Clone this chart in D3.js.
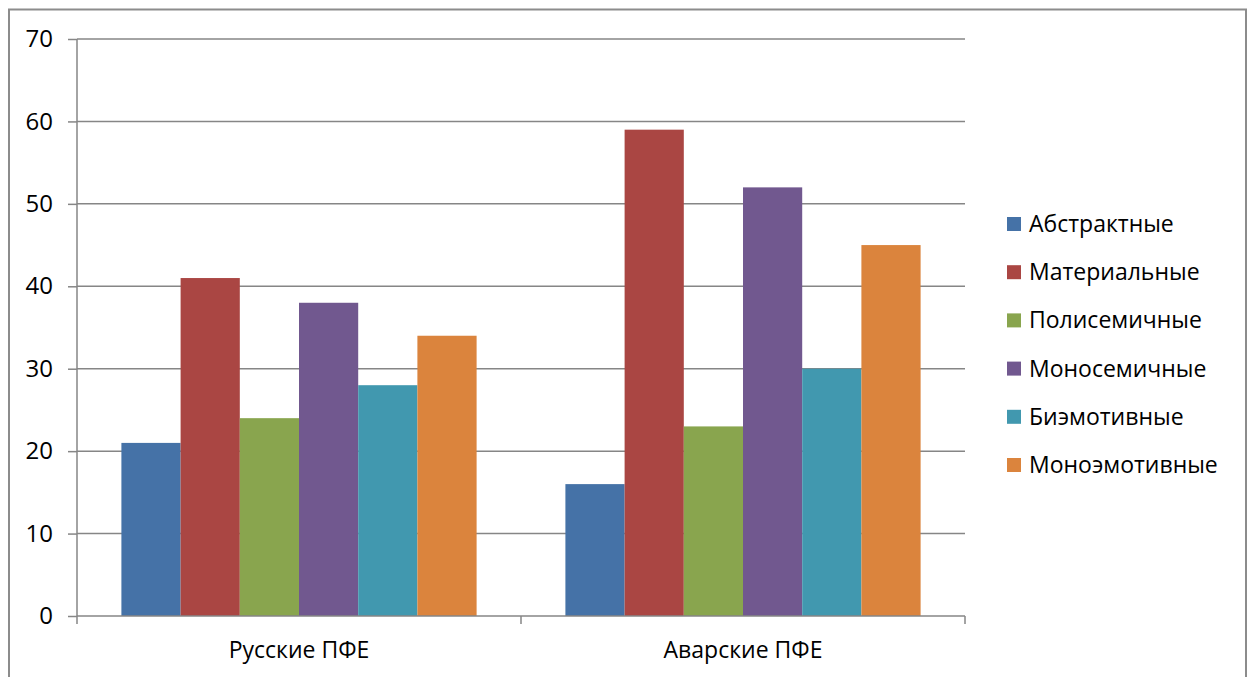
<!DOCTYPE html>
<html><head><meta charset="utf-8">
<script src="https://cdn.jsdelivr.net/npm/d3@7"></script>
<style>body{margin:0;background:#fff}svg{display:block}text{font-family:"Open Sans",sans-serif;fill:#000}</style>
</head><body><svg id="c" width="1250" height="677"></svg>
<script>
const categories = ["Русские ПФЕ", "Аварские ПФЕ"];
const seriesNames = ["Абстрактные", "Материальные", "Полисемичные", "Моносемичные", "Биэмотивные", "Моноэмотивные"];
const seriesColors = ["#4572A7", "#AA4643", "#89A54E", "#71588F", "#4198AF", "#DB843D"];
const valuesRussian = [21, 41, 24, 38, 28, 34];
const valuesAvar = [16, 59, 23, 52, 30, 45];
const yTicks = [0, 10, 20, 30, 40, 50, 60, 70];

const values = [valuesRussian, valuesAvar];
const svg = d3.select("#c");
const L = 77, R = 965, T = 39, B = 616;
const gridCol = "#868686";

svg.append("rect").attr("x", 9).attr("y", 9.5).attr("width", 1237).attr("height", 700)
  .attr("fill", "#fff").attr("stroke", "#8c8c8c").attr("stroke-width", 2);

const y = d3.scaleLinear().domain([0, 70]).range([B, T]);
const x0 = d3.scaleBand().domain(categories).range([L, R]).padding(0);
const x1 = d3.scaleBand().domain(seriesNames).range([x0.bandwidth() * 0.1, x0.bandwidth() * 0.9]).padding(0);

// gridlines
svg.append("g").selectAll("line").data(yTicks.filter(d => d > 0)).join("line")
  .attr("x1", L).attr("x2", R).attr("y1", d => y(d)).attr("y2", d => y(d))
  .attr("stroke", gridCol).attr("stroke-width", 1.5);

// bars
const groups = svg.append("g").selectAll("g").data(categories).join("g")
  .attr("transform", d => `translate(${x0(d)},0)`);
groups.selectAll("rect").data((c, i) => seriesNames.map((s, j) => ({s, v: values[i][j], c: seriesColors[j]})))
  .join("rect")
  .attr("x", d => x1(d.s)).attr("width", x1.bandwidth())
  .attr("y", d => y(d.v)).attr("height", d => B - y(d.v))
  .attr("fill", d => d.c);

// y axis
const yAxis = svg.append("g").attr("transform", `translate(${L},0)`)
  .call(d3.axisLeft(y).tickValues(yTicks).tickSize(9).tickPadding(15).tickFormat(d3.format("d")));
yAxis.select(".domain").attr("stroke", gridCol).attr("stroke-width", 1.5).attr("d", `M0,${T}V${B}`);
yAxis.selectAll(".tick line").attr("stroke", gridCol).attr("stroke-width", 1.5);
yAxis.selectAll(".tick text").attr("font-size", 24).attr("font-family", "Open Sans").attr("fill", "#000");

// x axis
const xAxis = svg.append("g").attr("transform", `translate(0,${B})`)
  .call(d3.axisBottom(x0).tickSize(0).tickPadding(26));
xAxis.select(".domain").attr("stroke", gridCol).attr("stroke-width", 1.5).attr("d", `M${L},0H${R}`);
xAxis.selectAll(".tick text").attr("font-size", 23).attr("font-family", "Open Sans").attr("fill", "#000");
const bounds = [L, ...categories.map(c => x0(c) + x0.bandwidth())];
svg.append("g").selectAll("line").data(bounds).join("line")
  .attr("x1", d => d).attr("x2", d => d).attr("y1", B).attr("y2", B + 8)
  .attr("stroke", gridCol).attr("stroke-width", 1.5);

// legend
const leg = svg.append("g").attr("transform", "translate(1007,224)");
const items = leg.selectAll("g").data(seriesNames).join("g")
  .attr("transform", (d, i) => `translate(0,${i * 48.2})`);
items.append("rect").attr("x", 0).attr("y", -7).attr("width", 14).attr("height", 14)
  .attr("fill", (d, i) => seriesColors[i]);
items.append("text").attr("x", 22).attr("y", 0).attr("dy", "0.35em")
  .attr("font-size", 23).text(d => d);
</script></body></html>
